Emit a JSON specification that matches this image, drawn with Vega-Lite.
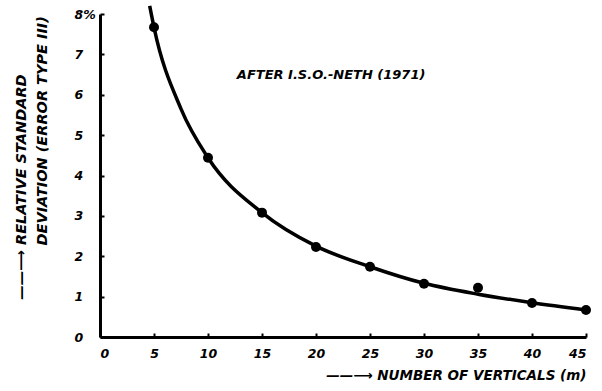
{
  "$schema": "https://vega.github.io/schema/vega-lite/v6.json",
  "width": 486,
  "height": 323,
  "autosize": {"type": "none"},
  "padding": {"left": 100, "top": 14, "right": 16, "bottom": 54},
  "background": "white",
  "config": {
    "view": {"stroke": null},
    "font": "DejaVu Sans",
    "axis": {"grid": false, "domainColor": "black", "domainWidth": 3, "tickColor": "black", "tickWidth": 2, "labelColor": "black", "titleColor": "black", "labelFont": "DejaVu Sans", "titleFont": "DejaVu Sans", "labelFontStyle": "italic", "titleFontStyle": "italic", "labelFontWeight": "bold", "titleFontWeight": "bold"}
  },
  "layer": [
    {
      "data": {"values": [
        {"m": 4.6, "v": 8.2}, {"m": 5, "v": 7.67}, {"m": 7.5, "v": 5.65}, {"m": 10, "v": 4.44},
        {"m": 15, "v": 3.08}, {"m": 20, "v": 2.25}, {"m": 25, "v": 1.74}, {"m": 30, "v": 1.33},
        {"m": 35, "v": 1.06}, {"m": 40, "v": 0.85}, {"m": 45, "v": 0.67}
      ]},
      "mark": {"type": "line", "interpolate": "monotone", "color": "black", "strokeWidth": 3.5, "clip": false},
      "encoding": {
        "x": {"field": "m", "type": "quantitative", "scale": {"domain": [0, 45], "nice": false},
          "axis": {"values": [0, 5, 10, 15, 20, 25, 30, 35, 40, 45], "tickSize": -4, "labelPadding": 14, "labelFontSize": 12.5,
            "title": "——⟶ NUMBER OF VERTICALS (m)", "titleAnchor": "end", "titleFontSize": 13.5, "titlePadding": 9}},
        "y": {"field": "v", "type": "quantitative", "scale": {"domain": [0, 8], "nice": false},
          "axis": {"values": [0, 1, 2, 3, 4, 5, 6, 7, 8], "tickSize": -4, "labelPadding": 30, "labelAlign": "left", "labelFontSize": 12.5,
            "labelExpr": "datum.value == 8 ? '8%' : datum.label",
            "title": "DEVIATION (ERROR TYPE III)",
            "titleAlign": "left", "titleY": 231, "titleFontSize": 14.5, "titlePadding": 25}}
      }
    },
    {
      "data": {"values": [
        {"m": 5, "v": 7.67}, {"m": 10, "v": 4.44}, {"m": 15, "v": 3.08}, {"m": 20, "v": 2.23},
        {"m": 25, "v": 1.74}, {"m": 30, "v": 1.32}, {"m": 35, "v": 1.22}, {"m": 40, "v": 0.84}, {"m": 45, "v": 0.67}
      ]},
      "mark": {"type": "point", "filled": true, "color": "black", "size": 100, "opacity": 1},
      "encoding": {
        "x": {"field": "m", "type": "quantitative"},
        "y": {"field": "v", "type": "quantitative"}
      }
    },
    {
      "data": {"values": [{"m": 21.4, "v": 6.5, "t": "AFTER I.S.O.-NETH (1971)"}]},
      "mark": {"type": "text", "fontSize": 13, "fontStyle": "italic", "fontWeight": "bold", "color": "black", "font": "DejaVu Sans"},
      "encoding": {
        "x": {"field": "m", "type": "quantitative"},
        "y": {"field": "v", "type": "quantitative"},
        "text": {"field": "t"}
      }
    },
    {
      "data": {"values": [{"m": -7.2, "v": 0.92, "t": "——⟶ RELATIVE STANDARD"}]},
      "mark": {"type": "text", "angle": 270, "align": "left", "baseline": "middle", "fontSize": 14.5, "fontStyle": "italic", "fontWeight": "bold", "color": "black", "font": "DejaVu Sans"},
      "encoding": {
        "x": {"field": "m", "type": "quantitative"},
        "y": {"field": "v", "type": "quantitative"},
        "text": {"field": "t"}
      }
    }
  ]
}
